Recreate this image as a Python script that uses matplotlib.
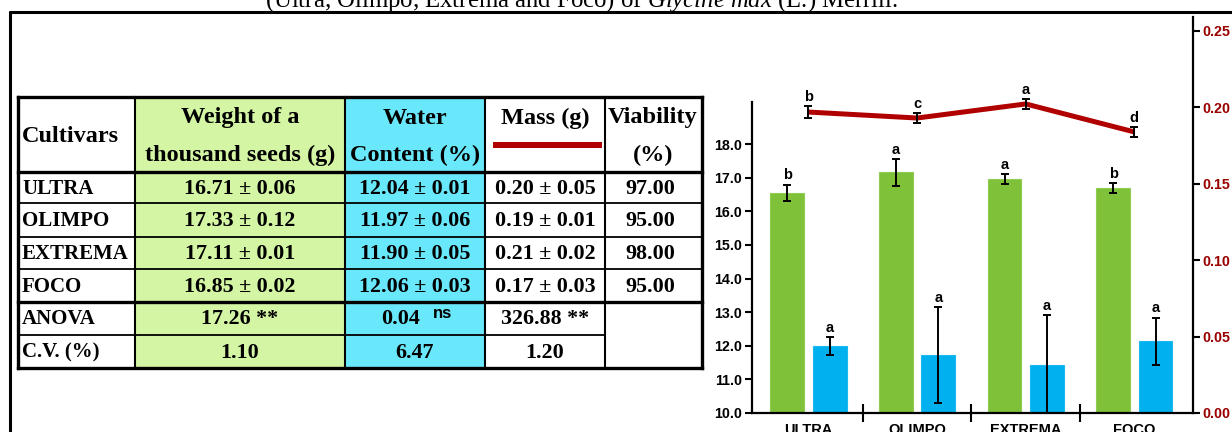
import matplotlib
matplotlib.use("Agg")
import matplotlib.pyplot as plt
from matplotlib.patches import Rectangle
import numpy as np

plt.rcParams["mathtext.fontset"] = "custom"
plt.rcParams["mathtext.rm"] = "Liberation Serif"
plt.rcParams["mathtext.it"] = "Liberation Serif:italic"

# ---- data ----
cultivars = ["ULTRA", "OLIMPO", "EXTREMA", "FOCO"]
weight_mean = [16.71, 17.33, 17.11, 16.85]
weight_sd = [0.06, 0.12, 0.01, 0.02]
water_mean = [12.04, 11.97, 11.90, 12.06]
water_sd = [0.01, 0.06, 0.05, 0.03]
mass_mean = [0.20, 0.19, 0.21, 0.17]
mass_sd = [0.05, 0.01, 0.02, 0.03]
viability = [97.00, 95.00, 98.00, 95.00]
anova = ["17.26 **", "0.04", "326.88 **"]
cv = ["1.10", "6.47", "1.20"]

# values as drawn in the chart
weight_bar = [16.55, 17.17, 16.96, 16.70]
weight_err = [0.25, 0.40, 0.15, 0.15]
water_bar = [12.00, 11.73, 11.43, 12.14]
water_err = [0.27, 1.43, 1.48, 0.70]
mass_line = [0.1967, 0.1928, 0.2020, 0.1837]
mass_err = [0.004, 0.0035, 0.0035, 0.0035]
weight_letters = ["b", "a", "a", "b"]
water_letters = ["a", "a", "a", "a"]
mass_letters = ["b", "c", "a", "d"]

GREEN_CELL = "#d4f5a4"
CYAN_CELL = "#6ae8fb"
RED = "#b00000"
SERIF = "Liberation Serif"
SANS = "Liberation Sans"

fig = plt.figure(figsize=(12.32, 4.32), dpi=100)

# ---- background layer: frame, title, table (pixel coords) ----
bg = fig.add_axes([0, 0, 1, 1])
bg.set_xlim(0, 1232); bg.set_ylim(432, 0); bg.axis("off")
bg.plot([10, 10], [11, 432], color="black", lw=2.2, solid_capstyle="butt")
bg.plot([9, 1232], [11.5, 11.5], color="black", lw=2.2, solid_capstyle="butt")
bg.text(265, 7, r"(Ultra, Olimpo, Extrema and Foco) of $\mathit{Glycine\ max}$ (L.) Merrill.",
        fontsize=17.8, family=SERIF, ha="left", va="baseline")

cols = [18, 135, 345, 485, 605, 702]
rows = [97, 172, 203, 237, 269, 302, 335, 368]
for c, col in [(1, GREEN_CELL), (2, CYAN_CELL)]:
    bg.add_patch(Rectangle((cols[c], rows[0]), cols[c + 1] - cols[c], rows[-1] - rows[0],
                           facecolor=col, edgecolor="none", zorder=1))
# horizontal lines
for i, y in enumerate(rows):
    thick = 2.4 if i in (0, 1, 5, 7) else 1.3
    x1 = cols[4] if i == 6 else cols[-1]
    bg.plot([cols[0], x1], [y, y], color="black", lw=thick, zorder=3, solid_capstyle="projecting")
for i, x in enumerate(cols):
    bg.plot([x, x], [rows[0], rows[-1]], color="black", lw=2.4 if i in (0, 5) else 1.5, zorder=3)

hfs, bfs, vfs = 17.5, 15, 15.8
tk = dict(family=SERIF, fontweight="bold", zorder=4)
bg.text(cols[0] + 4, 137, "Cultivars", fontsize=hfs, ha="left", va="center", **tk)
bg.text(240, 118, "Weight of a", fontsize=hfs, ha="center", va="center", **tk)
bg.text(240, 155, "thousand seeds (g)", fontsize=hfs, ha="center", va="center", **tk)
bg.text(415, 118, "Water", fontsize=hfs, ha="center", va="center", **tk)
bg.text(415, 155, "Content (%)", fontsize=hfs, ha="center", va="center", **tk)
bg.text(545, 118, "Mass (g)", fontsize=hfs, ha="center", va="center", **tk)
bg.add_patch(Rectangle((493, 142), 109, 6, facecolor=RED, edgecolor="none", zorder=4))
bg.text(653, 118, "Viability", fontsize=hfs, ha="center", va="center", **tk)
bg.text(653, 155, "(%)", fontsize=hfs, ha="center", va="center", **tk)

for i, name in enumerate(cultivars):
    yc = (rows[i + 1] + rows[i + 2]) / 2 + 1
    bg.text(cols[0] + 4, yc, name, fontsize=bfs, ha="left", va="center", **tk)
    bg.text(240, yc, f"{weight_mean[i]:.2f} ± {weight_sd[i]:.2f}", fontsize=vfs, ha="center", va="center", **tk)
    bg.text(415, yc, f"{water_mean[i]:.2f} ± {water_sd[i]:.2f}", fontsize=vfs, ha="center", va="center", **tk)
    bg.text(545, yc, f"{mass_mean[i]:.2f} ± {mass_sd[i]:.2f}", fontsize=vfs, ha="center", va="center", **tk)
    bg.text(650, yc, f"{viability[i]:.2f}", fontsize=vfs, ha="center", va="center", **tk)

ya = (rows[5] + rows[6]) / 2 + 1
yv = (rows[6] + rows[7]) / 2 + 1
bg.text(cols[0] + 4, ya, "ANOVA", fontsize=bfs, ha="left", va="center", **tk)
bg.text(cols[0] + 4, yv, "C.V. (%)", fontsize=bfs, ha="left", va="center", **tk)
bg.text(240, ya, anova[0], fontsize=vfs, ha="center", va="center", **tk)
bg.text(401, ya, anova[1], fontsize=vfs, ha="center", va="center", **tk)
bg.text(433, ya - 6, "ns", fontsize=12, family=SANS, fontweight="bold", ha="left", va="center", zorder=4)
bg.text(545, ya, anova[2], fontsize=vfs, ha="center", va="center", **tk)
for xc, v in zip([240, 415, 545], cv):
    bg.text(xc, yv, v, fontsize=vfs, ha="center", va="center", **tk)

# ---- chart ----
ax = fig.add_axes([752 / 1232, 19 / 432, (1193 - 752) / 1232, (413 - 17) / 432])
ax2 = ax.twinx()
x = np.arange(len(cultivars))
off, w = 0.195, 0.31
ax.bar(x - off, weight_bar, w, color="#80c13a", edgecolor="#8fcc52", lw=0.8, zorder=2)
ax.bar(x + off, water_bar, w, color="#00b0ef", edgecolor="#1cb8f0", lw=0.8, zorder=2)
eb = dict(fmt="none", ecolor="black", elinewidth=1.4, capsize=2.6, capthick=1.4, zorder=3)
ax.errorbar(x - off, weight_bar, yerr=weight_err, **eb)
ax.errorbar(x + off, water_bar, yerr=water_err, **eb)
lk = dict(fontsize=10.5, family=SANS, fontweight="bold", ha="center", va="bottom",
          textcoords="offset points", xytext=(0, 1.5))
for i in x:
    ax.annotate(weight_letters[i], (i - off, weight_bar[i] + weight_err[i]), **lk)
    ax.annotate(water_letters[i], (i + off, water_bar[i] + water_err[i]), **lk)

ax.set_xlim(-0.52, 3.54)
ax.set_ylim(10, 10 + (413 - 17) / 33.6)
ax.set_yticks(np.arange(10, 18.01, 1.0))
ax.set_yticklabels([f"{v:.1f}" for v in np.arange(10, 18.01, 1.0)])
ax.set_xticks(x)
ax.set_xticklabels(cultivars)
ax.set_xticks([0.5, 1.5, 2.5], minor=True)
ax.tick_params(axis="x", which="major", length=0, pad=7)
ax.tick_params(axis="x", which="minor", direction="inout", length=13, width=1.5)
ax.tick_params(axis="y", direction="out", length=5, width=1.5, pad=2)
for t in ax.get_yticklabels():
    t.set_family(SANS); t.set_fontweight("bold"); t.set_fontsize(10.3)
for t in ax.get_xticklabels():
    t.set_family(SANS); t.set_fontweight("bold"); t.set_fontsize(10.5)
for s in ["top", "right"]:
    ax.spines[s].set_visible(False)
ax.spines["left"].set_bounds(10, 19.25)
for s in ["left", "bottom"]:
    ax.spines[s].set_linewidth(1.6)
ax.patch.set_visible(False)

ax2.plot(x, mass_line, color=RED, lw=3.6, solid_capstyle="butt", zorder=2)
ax2.errorbar(x, mass_line, yerr=mass_err, **eb)
for i in x:
    ax2.annotate(mass_letters[i], (i, mass_line[i] + mass_err[i]), **lk)
ax2.set_ylim(0, (413 - 17) / 76.5 * 0.05)
ax2.set_yticks(np.arange(0, 0.251, 0.05))
ax2.set_yticklabels([f"{v:.2f}" for v in np.arange(0, 0.251, 0.05)])
ax2.tick_params(axis="y", direction="out", length=5, width=1.5, pad=2, colors="#9a0000")
ax2.tick_params(axis="y", color="black")
for t in ax2.get_yticklabels():
    t.set_family(SANS); t.set_fontweight("bold"); t.set_fontsize(10.3)
for s in ["top", "left", "bottom"]:
    ax2.spines[s].set_visible(False)
ax2.spines["right"].set_linewidth(1.6)

fig.savefig("out.png", dpi=100)
